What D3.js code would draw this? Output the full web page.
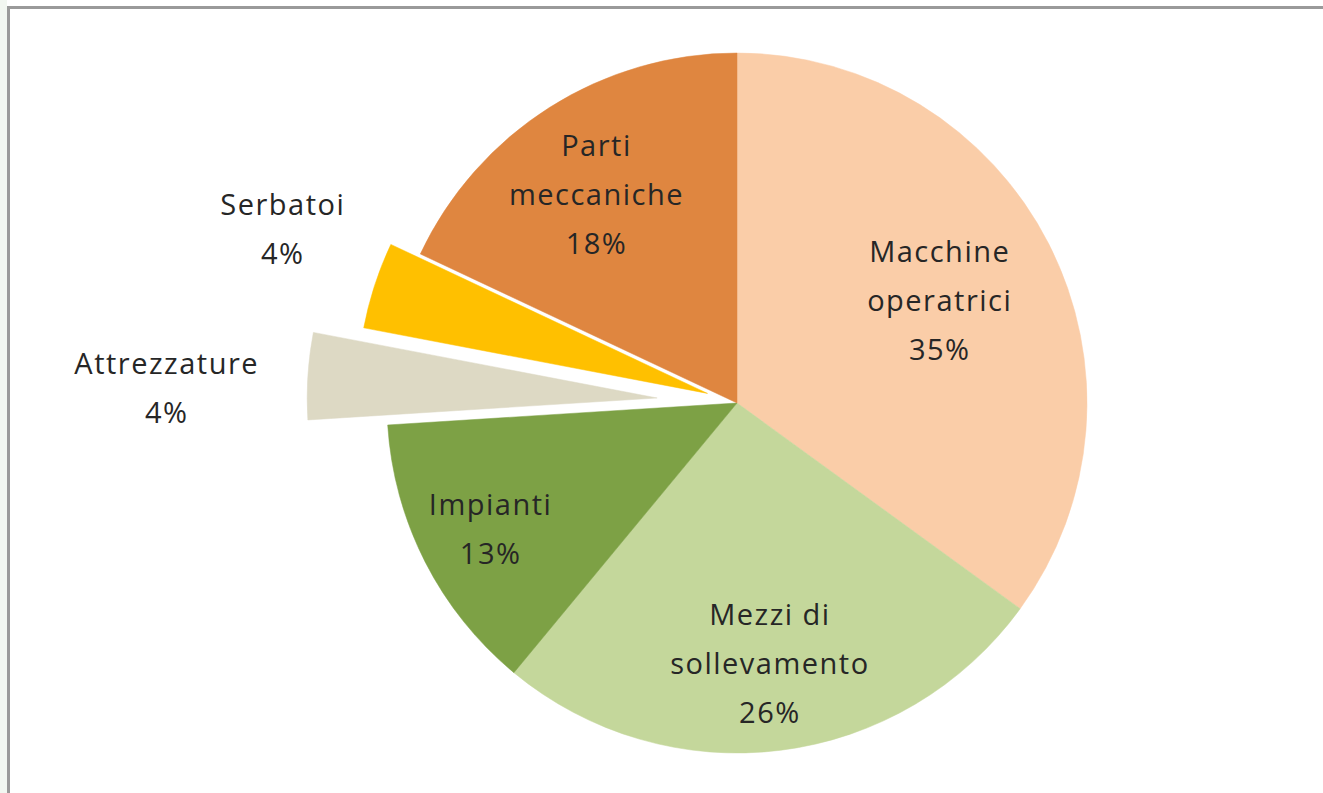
<!DOCTYPE html>
<html>
<head>
<meta charset="utf-8">
<script src="https://cdn.jsdelivr.net/npm/d3@7"></script>
<style>
  html, body { margin: 0; padding: 0; background: #fff; }
  svg { display: block; }
</style>
</head>
<body>
<div id="chart"></div>
<script>
// slices in clockwise order, starting at 12 o'clock
const categories = ["Macchine operatrici", "Mezzi di sollevamento", "Impianti", "Attrezzature", "Serbatoi", "Parti meccaniche"];
const labelLines = [["Macchine", "operatrici"], ["Mezzi di", "sollevamento"], ["Impianti"], ["Attrezzature"], ["Serbatoi"], ["Parti", "meccaniche"]];
const values = [35, 26, 13, 4, 4, 18];
const exploded = [false, false, false, true, true, false];
const colors = ["#FACDA8", "#C4D79B", "#7DA145", "#DDD9C4", "#FFC000", "#DF8640"];

(function pie(){
  var width = 1323, height = 793;
  var cx = 737, cy = 403, radius = 350;

  // how far each exploded slice is pulled out
  var explodeDist = {"Attrezzature": 80, "Serbatoi": 31};
  // where the label block sits: fraction of radius and angle nudge (deg)
  var labelPos = {
    "Macchine operatrici": [0.65, 0],
    "Mezzi di sollevamento": [0.75, 0],
    "Impianti": [0.79, 0],
    "Attrezzature": [1.63, -2],
    "Serbatoi": [1.39, 3],
    "Parti meccaniche": [0.72, -1.5]
  };

  const svg = d3.select("#chart")
    .append("svg")
    .attr("width", width)
    .attr("height", height);

  svg.append("rect")
    .attr("width", width)
    .attr("height", height)
    .attr("fill", "#fff");

  // faint strip and frame lines of the original screenshot
  svg.append("rect")
    .attr("x", 0).attr("y", 0)
    .attr("width", 7).attr("height", height)
    .attr("fill", "#f2f7f1");
  svg.append("line")
    .attr("x1", 8.5).attr("y1", 6).attr("x2", 8.5).attr("y2", height)
    .attr("stroke", "#9a9a9a").attr("stroke-width", 3);
  svg.append("line")
    .attr("x1", 7).attr("y1", 7.5).attr("x2", width).attr("y2", 7.5)
    .attr("stroke", "#9a9a9a").attr("stroke-width", 3);

  var data = categories.map(function(c, i){
    return {name: c, lines: labelLines[i], value: values[i], explode: exploded[i], color: colors[i]};
  });

  var arcs = d3.pie()
    .sort(null)
    .value(function(d){ return d.value; })(data);

  var arc = d3.arc().innerRadius(0).outerRadius(radius);

  var g = svg.append("g")
    .attr("transform", "translate(" + cx + "," + cy + ")");

  function offset(d){
    if (!d.data.explode) return [0, 0];
    var mid = (d.startAngle + d.endAngle) / 2;
    var dist = explodeDist[d.data.name];
    return [Math.sin(mid) * dist, -Math.cos(mid) * dist];
  }

  g.selectAll("path.slice")
    .data(arcs)
    .enter()
    .append("path")
      .attr("class", "slice")
      .attr("d", arc)
      .attr("transform", function(d){ var o = offset(d); return "translate(" + o[0] + "," + o[1] + ")"; })
      .attr("fill", function(d){ return d.data.color; })
      .attr("stroke", function(d){ return d.data.color; })
      .attr("stroke-width", 0.5);

  // data labels: name lines + percentage
  var total = d3.sum(values);
  var lineH = 49;
  var labels = g.selectAll("g.label")
    .data(arcs)
    .enter()
    .append("g")
      .attr("class", "label")
      .attr("transform", function(d){
        var p = labelPos[d.data.name];
        var a = (d.startAngle + d.endAngle) / 2 + p[1] * Math.PI / 180;
        var r = radius * p[0];
        return "translate(" + (Math.sin(a) * r) + "," + (-Math.cos(a) * r) + ")";
      });

  labels.each(function(d){
    var lines = d.data.lines.concat([Math.round(d.data.value / total * 100) + "%"]);
    var t = d3.select(this).append("text")
      .attr("text-anchor", "middle")
      .style("font-family", "'Open Sans', sans-serif")
      .style("font-size", "29px")
      .style("letter-spacing", "1.5px")
      .style("fill", "#262626");
    lines.forEach(function(s, i){
      t.append("tspan")
        .attr("x", 0)
        .attr("y", (i - (lines.length - 1) / 2) * lineH + 11)
        .text(s);
    });
  });
})();
</script>
</body>
</html>
